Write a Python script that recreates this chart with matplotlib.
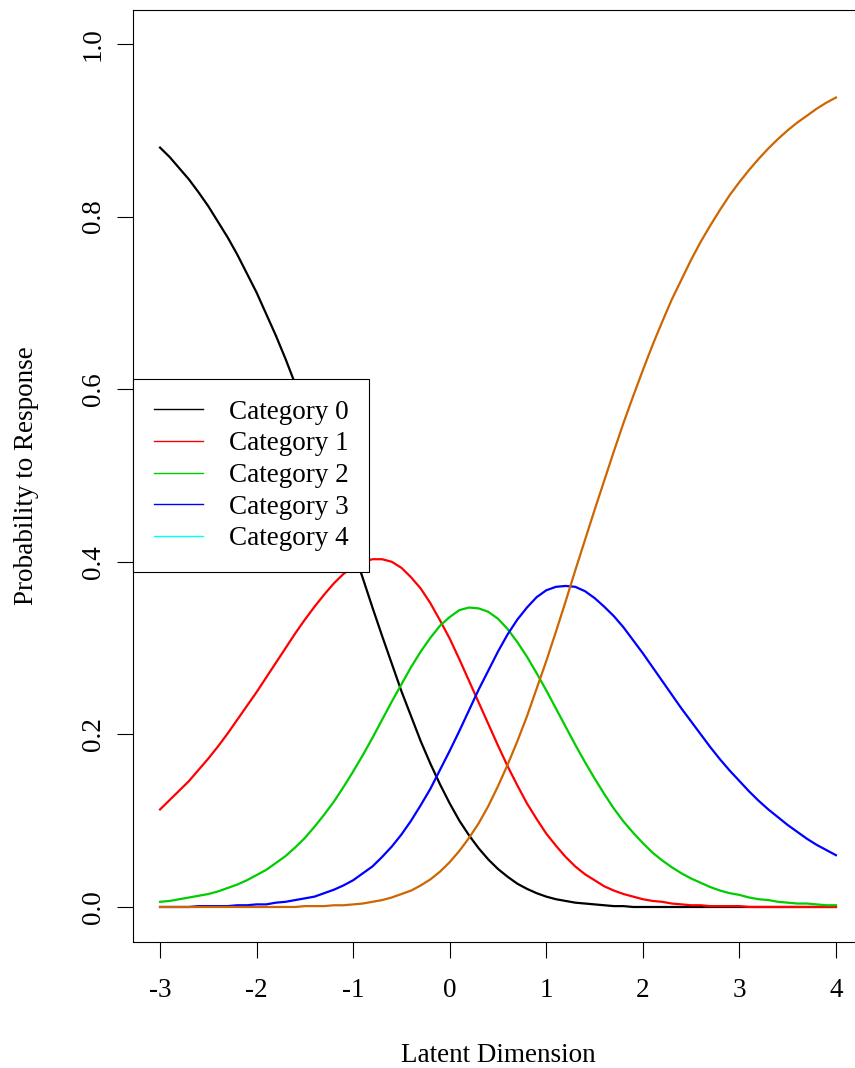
import numpy as np
import matplotlib
matplotlib.use("Agg")
import matplotlib.pyplot as plt
from matplotlib.lines import Line2D

# latent dimension sample positions (-3 to 4, step 0.1)
theta = np.round(np.arange(-3, 4.0001, 0.1), 1)

cat0 = [0.880,0.869,0.856,0.843,0.828,0.812,0.794,0.776,0.756,0.734,
        0.712,0.687,0.662,0.635,0.606,0.577,0.546,0.514,0.481,0.448,
        0.414,0.381,0.347,0.314,0.282,0.250,0.221,0.192,0.166,0.142,
        0.120,0.100,0.083,0.068,0.055,0.044,0.035,0.027,0.021,0.016,
        0.012,0.009,0.007,0.005,0.004,0.003,0.002,0.001,0.001,0.000,
        0.000,0.000,0.000,0.000,0.000,0.000,0.000,0.000,0.000,0.000,
        0.000,0.000,0.000,0.000,0.000,0.000,0.000,0.000,0.000,0.000,
        0.000]
cat1 = [0.113,0.124,0.135,0.146,0.159,0.172,0.186,0.201,0.217,0.233,
        0.249,0.266,0.283,0.300,0.317,0.333,0.348,0.362,0.375,0.386,
        0.394,0.400,0.403,0.403,0.400,0.393,0.382,0.369,0.352,0.332,
        0.311,0.287,0.262,0.237,0.212,0.187,0.163,0.141,0.120,0.102,
        0.085,0.071,0.058,0.047,0.038,0.031,0.024,0.019,0.015,0.012,
        0.009,0.007,0.006,0.004,0.003,0.002,0.002,0.001,0.001,0.001,
        0.001,0.000,0.000,0.000,0.000,0.000,0.000,0.000,0.000,0.000,
        0.000]
cat2 = [0.006,0.007,0.009,0.011,0.013,0.015,0.018,0.022,0.026,0.031,
        0.037,0.043,0.051,0.059,0.069,0.080,0.093,0.107,0.122,0.139,
        0.157,0.176,0.196,0.217,0.238,0.258,0.278,0.296,0.312,0.326,
        0.336,0.344,0.347,0.346,0.342,0.334,0.322,0.307,0.290,0.271,
        0.251,0.230,0.209,0.188,0.168,0.149,0.131,0.114,0.099,0.086,
        0.074,0.063,0.054,0.046,0.039,0.033,0.028,0.023,0.019,0.016,
        0.014,0.011,0.009,0.008,0.006,0.005,0.004,0.004,0.003,0.002,
        0.002]
cat3 = [0.000,0.000,0.000,0.000,0.001,0.001,0.001,0.001,0.002,0.002,
        0.003,0.003,0.005,0.006,0.008,0.010,0.012,0.016,0.020,0.025,
        0.031,0.039,0.047,0.058,0.070,0.084,0.100,0.118,0.137,0.159,
        0.181,0.204,0.228,0.252,0.274,0.296,0.316,0.333,0.347,0.359,
        0.367,0.371,0.372,0.371,0.366,0.358,0.348,0.337,0.324,0.309,
        0.294,0.278,0.262,0.246,0.230,0.215,0.200,0.185,0.171,0.158,
        0.146,0.134,0.123,0.113,0.104,0.095,0.087,0.079,0.072,0.066,
        0.060]
cat4 = [0.000,0.000,0.000,0.000,0.000,0.000,0.000,0.000,0.000,0.000,
        0.000,0.000,0.000,0.000,0.000,0.001,0.001,0.001,0.002,0.002,
        0.003,0.004,0.006,0.008,0.011,0.015,0.019,0.025,0.032,0.041,
        0.052,0.065,0.080,0.097,0.117,0.140,0.165,0.192,0.221,0.253,
        0.285,0.319,0.354,0.390,0.425,0.460,0.494,0.528,0.561,0.592,
        0.622,0.651,0.678,0.704,0.727,0.750,0.771,0.790,0.808,0.825,
        0.840,0.854,0.867,0.879,0.890,0.900,0.909,0.917,0.925,0.932,
        0.938]

series = [cat0, cat1, cat2, cat3, cat4]
labels = ['Category 0', 'Category 1', 'Category 2', 'Category 3', 'Category 4']
xticks = [-3, -2, -1, 0, 1, 2, 3, 4]
xticklabels = ['-3', '-2', '-1', '0', '1', '2', '3', '4']
yticks = [0.0, 0.2, 0.4, 0.6, 0.8, 1.0]
yticklabels = ['0.0', '0.2', '0.4', '0.6', '0.8', '1.0']

line_cols = ['black', '#FF0000', '#00CD00', '#0000FF', '#CD6600']
legend_cols = ['black', '#FF0000', '#00CD00', '#0000FF', '#00FFFF']

plt.rcParams['font.family'] = ['Liberation Serif', 'DejaVu Serif']
fs = 19.5
fig = plt.figure(figsize=(8.55, 10.68), dpi=100)
ax = fig.add_axes([133/855, 1-941.5/1068, 730/855, 932/1068])
for ys, c in zip(series, line_cols):
    ax.plot(theta, ys, color=c, lw=1.6, solid_joinstyle='round')
ax.set_xlim(-3.28, 4.28)
ax.set_ylim(-0.04, 1.04)
ax.set_xticks(xticks)
ax.set_xticklabels(xticklabels, fontsize=fs)
ax.set_yticks(yticks)
ax.set_yticklabels(yticklabels, fontsize=fs, rotation=90, va='center')
ax.tick_params(direction='out', length=11.5, width=0.8)
ax.tick_params(axis='x', pad=15)
ax.tick_params(axis='y', pad=8)
ax.spines['right'].set_visible(False)
for s in ['left', 'bottom', 'top']:
    ax.spines[s].set_linewidth(0.8)
ax.set_xlabel('Latent Dimension', fontsize=fs, labelpad=28.5)
ax.set_ylabel('Probability to Response', fontsize=fs, labelpad=30)
handles = [Line2D([], [], color=c, lw=1.0) for c in legend_cols]
leg = ax.legend(handles, labels, loc='center left',
                bbox_to_anchor=(0, 0.5), fontsize=fs, frameon=True, fancybox=False,
                framealpha=1, edgecolor='black', borderpad=0.78, handlelength=1.8,
                handletextpad=0.95, labelspacing=0.245, borderaxespad=0)
leg.get_frame().set_linewidth(0.8)
fig.savefig("out.png")
